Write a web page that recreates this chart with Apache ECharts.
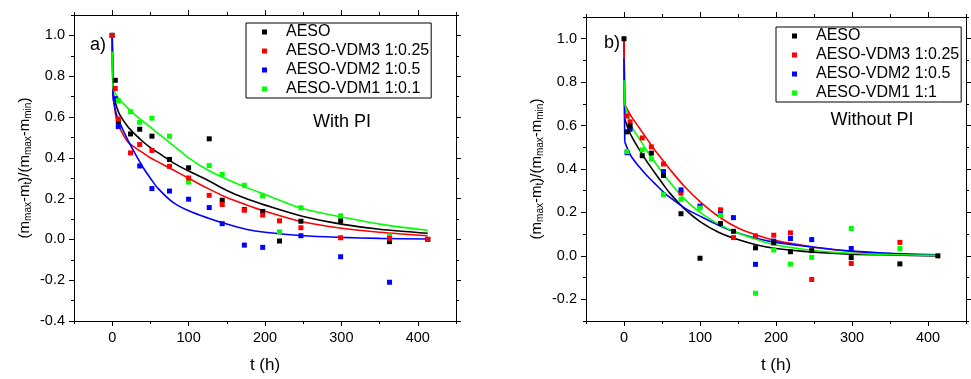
<!DOCTYPE html>
<html>
<head>
<meta charset="utf-8">
<script src="https://cdn.jsdelivr.net/npm/echarts@6/dist/echarts.min.js"></script>
<style>
html,body{margin:0;padding:0;background:#fff;}
#c{width:971px;height:379px;}
</style>
</head>
<body>
<div id="c"></div>
<script>
// ---------- data ----------
const namesPI = ['AESO', 'AESO-VDM3 1:0.25', 'AESO-VDM2 1:0.5', 'AESO-VDM1 1:0.1'];
const namesNoPI = ['AESO', 'AESO-VDM3 1:0.25', 'AESO-VDM2 1:0.5', 'AESO-VDM1 1:1'];

// measured points, panel a) With PI
const tPI = [0, 4, 8, 24, 36, 52, 75, 100, 127, 144, 173, 197, 219, 247, 299, 363, 413];
const aesoPI = [1.0, 0.78, 0.577, 0.517, 0.54, 0.506, 0.392, 0.351, 0.493, 0.192, 0.146, 0.137, -0.008, 0.089, 0.091, -0.011, 0.0];
const vdm3PI = [1.0, 0.74, 0.59, 0.424, 0.465, 0.436, 0.358, 0.301, 0.216, 0.171, 0.143, 0.119, 0.091, 0.057, 0.008, 0.005, 0.0];
const vdm2PI = [1.0, 0.69, 0.553, null, 0.36, 0.249, 0.237, 0.197, 0.156, 0.077, -0.028, -0.039, null, 0.018, -0.085, -0.21, 0.0];
const vdm1PI = [1.0, null, 0.68, 0.626, 0.574, 0.594, 0.506, 0.281, 0.362, 0.319, 0.265, 0.213, 0.037, 0.155, 0.116, 0.018, null];

// measured points, panel b) Without PI
const tNoPI = [0, 4, 8, 24, 36, 52, 75, 100, 127, 144, 173, 197, 219, 247, 299, 363, 413];
const aesoNoPI = [1.0, 0.571, 0.598, 0.461, 0.473, 0.37, 0.194, -0.011, 0.149, 0.113, 0.037, 0.06, 0.019, 0.024, -0.008, -0.037, 0.0];
const vdm3NoPI = [null, 0.644, 0.617, 0.543, 0.502, 0.423, 0.289, null, 0.212, 0.084, 0.092, 0.095, 0.106, -0.109, -0.035, 0.062, null];
const vdm2NoPI = [null, 0.475, 0.583, null, null, 0.388, 0.304, 0.229, 0.194, 0.176, -0.039, 0.068, 0.08, 0.075, 0.034, null, null];
const vdm1NoPI = [null, 0.48, null, 0.488, 0.446, 0.282, 0.26, 0.22, 0.186, null, -0.172, 0.027, -0.038, -0.007, 0.126, 0.034, null];

// fitted curves (first point = start of the drop at t = 0)
const fitT = [0, 1, 5, 10, 20, 30, 40, 50, 60, 80, 100, 125, 150, 175, 200, 250, 300, 350, 413];
const fitAesoPI = [1.0, 0.72, 0.66, 0.61, 0.555, 0.515, 0.48, 0.45, 0.425, 0.375, 0.335, 0.29, 0.24, 0.20, 0.168, 0.112, 0.075, 0.05, 0.03];
const fitVdm3PI = [1.0, 0.72, 0.60, 0.545, 0.48, 0.45, 0.425, 0.40, 0.38, 0.34, 0.30, 0.25, 0.205, 0.17, 0.138, 0.085, 0.055, 0.035, 0.018];
const fitVdm2PI = [1.0, 0.70, 0.62, 0.57, 0.49, 0.42, 0.355, 0.30, 0.25, 0.18, 0.14, 0.105, 0.075, 0.05, 0.035, 0.018, 0.01, 0.005, 0.002];
const fitVdm1PI = [0.92, 0.74, 0.71, 0.685, 0.645, 0.61, 0.58, 0.55, 0.52, 0.46, 0.40, 0.34, 0.295, 0.255, 0.22, 0.15, 0.11, 0.075, 0.045];

const fitAesoNoPI = [1.0, 0.63, 0.59, 0.55, 0.49, 0.435, 0.385, 0.337, 0.29, 0.215, 0.158, 0.108, 0.075, 0.05, 0.034, 0.017, 0.008, 0.004, 0.0];
const fitVdm3NoPI = [1.0, 0.70, 0.67, 0.64, 0.59, 0.54, 0.49, 0.445, 0.40, 0.318, 0.25, 0.18, 0.128, 0.095, 0.07, 0.04, 0.02, 0.01, 0.004];
const fitVdm2NoPI = [0.91, 0.525, 0.49, 0.455, 0.41, 0.37, 0.335, 0.30, 0.27, 0.22, 0.183, 0.14, 0.105, 0.08, 0.062, 0.04, 0.022, 0.012, 0.005];
const fitVdm1NoPI = [0.81, 0.70, 0.65, 0.595, 0.54, 0.485, 0.435, 0.385, 0.34, 0.26, 0.20, 0.145, 0.105, 0.075, 0.05, 0.025, 0.012, 0.006, 0.002];

// ticks
const xMajor = [0, 100, 200, 300, 400];
const xMinor = [-50, 50, 150, 250, 350, 450];
const yMajorPI = [-0.4, -0.2, 0.0, 0.2, 0.4, 0.6, 0.8, 1.0];
const yMinorPI = [-0.3, -0.1, 0.1, 0.3, 0.5, 0.7, 0.9, 1.1];
const yMajorNoPI = [-0.2, 0.0, 0.2, 0.4, 0.6, 0.8, 1.0];
const yMinorNoPI = [-0.3, -0.1, 0.1, 0.3, 0.5, 0.7, 0.9, 1.1];

// ---------- chart ----------
const FONT = 'Liberation Sans, Arial, Helvetica, sans-serif';
const COLORS = ['#000000', '#ff0000', '#0000ff', '#00ff00'];
const pair = (ts, vs) => ts.map((t, i) => [t, vs[i]]).filter(p => p[1] !== null);

const yTitle = '{n|(m}{s|max}{n|-m}{s|t}{n|)/(m}{s|max}{n|-m}{s|min}{n|)}';
const yTitleStyle = {
  color: '#000', fontFamily: FONT,
  rich: {
    n: {fontSize: 15, fontFamily: FONT, color: '#000'},
    s: {fontSize: 10, fontFamily: FONT, color: '#000', padding: [7, 0, 0, 0]}
  }
};

function axis(kind, grid, pos, min, max, ticks, len, opts) {
  opts = opts || {};
  const a = {
    type: 'value', gridIndex: grid, position: pos, min: min, max: max,
    axisLine: {show: !!opts.line, onZero: false, lineStyle: {color: '#000', width: 1}},
    axisTick: {show: true, inside: false, length: len, customValues: ticks, lineStyle: {color: '#000', width: 1}},
    axisLabel: {show: !!opts.label, customValues: ticks, fontSize: 14.5, color: '#000', fontFamily: FONT, margin: 9,
      formatter: kind === 'y' ? (v => v.toFixed(1)) : (v => String(Math.round(v)))},
    splitLine: {show: false},
    minorTick: {show: false},
    silent: true
  };
  if (opts.name) Object.assign(a, opts.name);
  return a;
}

const xAxes = [];
const yAxes = [];
[0, 1].forEach(g => {
  xAxes.push(axis('x', g, 'bottom', -50, 450, xMajor, 5, {line: true, label: true, name: {
    name: 't (h)', nameLocation: 'middle', nameGap: 36,
    nameTextStyle: {fontSize: 17, color: '#000', fontFamily: FONT}}}));
  xAxes.push(axis('x', g, 'bottom', -50, 450, xMinor, 3, {}));
  xAxes.push(axis('x', g, 'top', -50, 450, xMajor, 5, {line: true}));
  xAxes.push(axis('x', g, 'top', -50, 450, xMinor, 3, {}));
  const ymin = g === 0 ? -0.4 : -0.3;
  const ymaj = g === 0 ? yMajorPI : yMajorNoPI;
  const ymin2 = g === 0 ? yMinorPI : yMinorNoPI;
  yAxes.push(axis('y', g, 'left', ymin, 1.1, ymaj, 5, {line: true, label: true, name: {
    name: yTitle, nameLocation: 'middle', nameGap: 41, nameRotate: 90, nameTextStyle: yTitleStyle}}));
  yAxes.push(axis('y', g, 'left', ymin, 1.1, ymin2, 3, {}));
  yAxes.push(axis('y', g, 'right', ymin, 1.1, ymaj, 5, {line: true}));
  yAxes.push(axis('y', g, 'right', ymin, 1.1, ymin2, 3, {}));
});

const series = [];
function addCurve(g, key, vs, color) {
  const pts = pair(fitT, vs);
  // initial drop (straight), then the smooth decay
  series.push({
    type: 'line', name: key + '_drop', xAxisIndex: g * 4, yAxisIndex: g * 4,
    data: pts.slice(0, 2), showSymbol: false, symbol: 'none', smooth: false,
    lineStyle: {color: color, width: 1.6}, itemStyle: {color: color}, silent: true, z: 2
  });
  series.push({
    type: 'line', name: key, xAxisIndex: g * 4, yAxisIndex: g * 4,
    data: pts.slice(1), showSymbol: false, symbol: 'none', smooth: 0.3,
    lineStyle: {color: color, width: 1.6}, itemStyle: {color: color}, silent: true, z: 2
  });
}
function addScatter(g, name, ts, vs, color) {
  series.push({
    type: 'scatter', name: name, xAxisIndex: g * 4, yAxisIndex: g * 4,
    data: pair(ts, vs), symbol: 'rect', symbolSize: 5,
    itemStyle: {color: color, opacity: 1}, silent: true, z: 3
  });
}
addCurve(0, 'fitA0', fitAesoPI, COLORS[0]);
addCurve(0, 'fitA1', fitVdm3PI, COLORS[1]);
addCurve(0, 'fitA2', fitVdm2PI, COLORS[2]);
addCurve(0, 'fitA3', fitVdm1PI, COLORS[3]);
addCurve(1, 'fitB0', fitAesoNoPI, COLORS[0]);
addCurve(1, 'fitB1', fitVdm3NoPI, COLORS[1]);
addCurve(1, 'fitB2', fitVdm2NoPI, COLORS[2]);
addCurve(1, 'fitB3', fitVdm1NoPI, COLORS[3]);

addScatter(0, namesPI[0], tPI, aesoPI, COLORS[0]);
addScatter(0, namesPI[2], tPI, vdm2PI, COLORS[2]);
addScatter(0, namesPI[3], tPI, vdm1PI, COLORS[3]);
addScatter(0, namesPI[1], tPI, vdm3PI, COLORS[1]);
addScatter(1, namesNoPI[1], tNoPI, vdm3NoPI, COLORS[1]);
addScatter(1, namesNoPI[2], tNoPI, vdm2NoPI, COLORS[2]);
addScatter(1, namesNoPI[3], tNoPI, vdm1NoPI, COLORS[3]);
addScatter(1, namesNoPI[0], tNoPI, aesoNoPI, COLORS[0]);

function legend(names, left, top) {
  return {
    data: names, left: left, top: top, orient: 'vertical', icon: 'rect',
    itemWidth: 5, itemHeight: 5, itemGap: 3, padding: [1, 2, 1, 16],
    borderColor: '#000', borderWidth: 1, selectedMode: false,
    textStyle: {fontSize: 16, color: '#000', fontFamily: FONT, padding: [0, 0, 0, 14], lineHeight: 16}
  };
}

function label(text, x, y, size) {
  return {type: 'text', x: x, y: y, silent: true, style: {
    text: text, fontSize: size, fontFamily: FONT, fill: '#000',
    align: 'center', verticalAlign: 'middle', textAlign: 'center', textVerticalAlign: 'middle'}};
}

const chart = echarts.init(document.getElementById('c'), null, {renderer: 'canvas'});
chart.setOption({
  animation: false,
  backgroundColor: '#fff',
  grid: [
    {left: 74, top: 15, width: 382, height: 308},
    {left: 586, top: 17, width: 380, height: 306}
  ],
  xAxis: xAxes,
  yAxis: yAxes,
  legend: [legend(namesPI, 246, 23), legend(namesNoPI, 776, 27)],
  graphic: [
    label('a)', 98, 45, 18),
    label('b)', 612, 43, 18),
    label('With PI', 342, 122, 18),
    label('Without PI', 872, 120, 18)
  ],
  series: series
});
</script>
</body>
</html>
